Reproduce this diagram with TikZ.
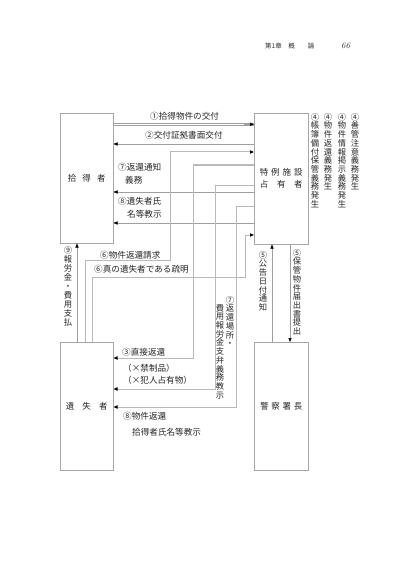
\documentclass[tikz,border=0pt]{standalone}
\usepackage{fontspec}
\newfontfamily\jp{Noto Sans CJK JP}
\usetikzlibrary{arrows.meta}
\begin{document}
\begin{tikzpicture}[x=1pt,y=-1pt,
  box/.style={draw=gray!70, line width=0.5pt, inner sep=0pt, font=\jp\fontsize{8.5}{12}\selectfont, text=black!85, align=center, anchor=north west},
  lab/.style={font=\jp\fontsize{8.6}{10}\selectfont, text=black!85, inner sep=0pt, anchor=west},
  vlab/.style={font=\jp\fontsize{8.3}{8.7}\selectfont, text=black!85, inner sep=0pt, align=center, anchor=north},
  conn/.style={draw=gray!75, line width=0.5pt},
  heavy/.style={draw=gray!55, line width=1pt},
  tip/.style={-{Triangle[length=4pt,width=3.2pt,color=black]}},
]
\useasboundingbox[fill=white] (0,0) rectangle (410,580);

% header
\node[font=\jp\fontsize{6.5}{8}\selectfont, anchor=west, inner sep=0pt, text=black!80] (hd) at (265,46) {第1章\quad 概\qquad 論};
\node[font=\itshape\fontsize{8.5}{10}\selectfont, anchor=west, inner sep=0pt, text=black!80] (pg) at (341,46) {66};

% boxes
\node[box, minimum width=53pt, minimum height=130pt] (A) at (60,113) {\makebox[38pt][s]{拾\hfill 得\hfill 者}};
\node[box, minimum width=54pt, minimum height=131pt] (B) at (254,113) {\makebox[43pt][s]{特\hfill 例\hfill 施\hfill 設}\\\makebox[43pt][s]{占\hfill 有\hfill 者}};
\node[box, minimum width=53pt, minimum height=128pt] (C) at (60,342) {\makebox[42pt][s]{遺\hfill 失\hfill 者}};
\node[box, minimum width=54pt, minimum height=128pt] (D) at (254,342) {\makebox[42pt][s]{警\hfill 察\hfill 署\hfill 長}};

% (1)
\draw[conn] (A.east|-0,123) -- (B.west|-0,123);
\draw[conn] (A.east|-0,125.5) -- (B.west|-0,125.5);
\coordinate (t1) at (244,124.3);
\draw[conn,tip] (t1) -- (B.west|-0,124.3);
% (2)
\draw[conn,tip] (B.west|-0,144) -- (A.east|-0,144);
% (7) notice, (8) names
\draw[conn,tip] (B.west|-0,192) -- (A.east|-0,192);
\draw[conn,tip] (B.west|-0,223) -- (A.east|-0,223);
% (6) request
\draw[heavy,tip] (C.north-|85,0) -- (85,260) -- (170,260) -- (170,152) -- (B.west|-0,152);
% (6) proof
\draw[heavy,tip] (C.north-|92,0) -- (92,277) -- (245,277) -- (245,235) -- (B.west|-0,235);
% (3)
\draw[heavy,tip] (B.west|-0,165) -- (193,165) -- (193,358) -- (C.east|-0,358);
% (7) place
\draw[heavy,tip] (B.west|-0,185) -- (215,185) -- (215,389) -- (C.east|-0,389);
% (8) return
\draw[heavy,tip] (B.west|-0,206) -- (236,206) -- (236,407) -- (C.east|-0,407);
% (9)
\draw[conn,tip] (C.north-|77,0) -- (A.south-|77,0);
% (5)
\draw[conn,tip] (D.north-|272,0) -- (B.south-|272,0);
\draw[conn,tip] (B.south-|290,0) -- (D.north-|290,0);

% horizontal labels
\node[lab] (l1) at (150,116) {①拾得物件の交付};
\node[lab] (l2) at (145,135) {②交付証拠書面交付};
\node[lab] (l7a) at (118,167) {⑦返還通知};
\node[lab] (l7b) at (125,180) {義務};
\node[lab] (l8a) at (118,201) {⑧遺失者氏};
\node[lab] (l8b) at (127,214) {名等教示};
\node[lab] (l6a) at (100,255) {⑥物件返還請求};
\node[lab] (l6b) at (94,269) {⑥真の遺失者である疏明};
\node[lab] (l3) at (122,352) {③直接返還};
\node[lab] (l3a) at (123,368) {（×禁制品）};
\node[lab] (l3b) at (123,380) {（×犯人占有物）};
\node[lab] (l8c) at (123,416) {⑧物件返還};
\node[lab] (l8d) at (132,432) {拾得者氏名等教示};

% vertical labels
\node[vlab] (v4a) at (315,113) {④\\帳\\簿\\備\\付\\保\\管\\義\\務\\発\\生};
\node[vlab] (v4b) at (328,113) {④\\物\\件\\返\\還\\義\\務\\発\\生};
\node[vlab] (v4c) at (342,113) {④\\物\\件\\情\\報\\掲\\示\\義\\務\\発\\生};
\node[vlab] (v4d) at (355,113) {④\\善\\管\\注\\意\\義\\務\\発\\生};
\node[vlab] (v5a) at (263,251) {⑤\\公\\告\\日\\付\\通\\知};
\node[vlab] (v5b) at (297,249) {⑤\\保\\管\\物\\件\\届\\出\\書\\提\\出};
\node[vlab, font=\jp\fontsize{8.3}{9}\selectfont] (v9) at (68,246) {⑨\\報\\労\\金\\・\\費\\用\\支\\払};
\node[vlab] (v7a) at (230,296) {⑦\\返\\還\\場\\所\\・};
\node[vlab] (v7b) at (220,304) {費\\用\\報\\労\\金\\支\\弁\\義\\務\\教\\示};
\end{tikzpicture}
\end{document}
